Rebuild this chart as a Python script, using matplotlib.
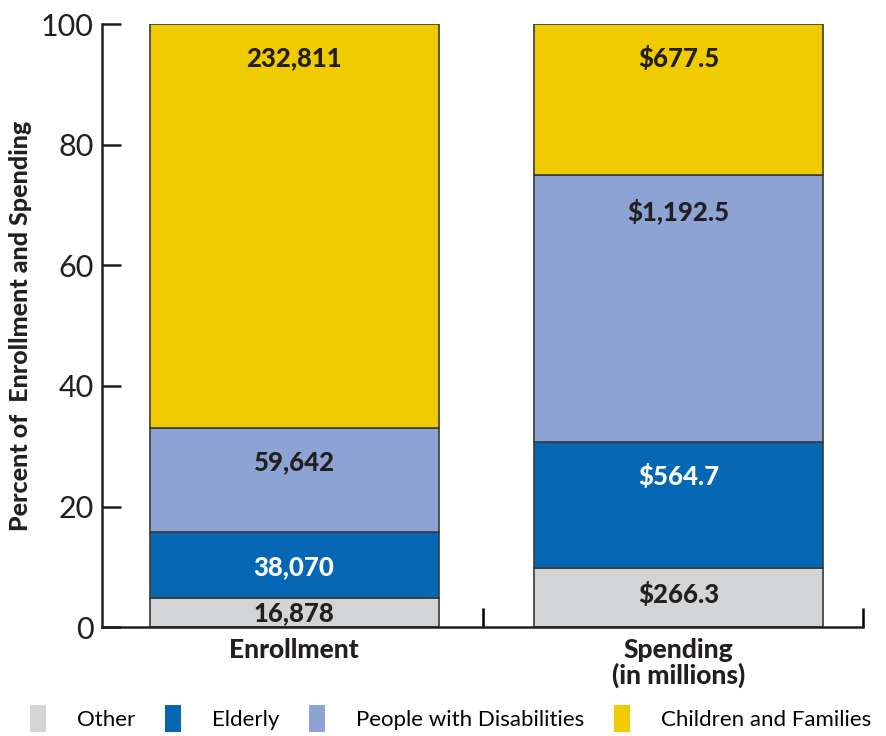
import matplotlib.pyplot as plt
from matplotlib.patches import Patch
import numpy as np

# -----------------------------------------------------------
# DATA
# -----------------------------------------------------------
groups = ["Enrollment", "Spending\n(in millions)"]
categories = ["Other", "Elderly", "People with Disabilities", "Children and Families"]
enrollment = [16878, 38070, 59642, 232811]
spending = [266.3, 564.7, 1192.5, 677.5]
enroll_labels = ["16,878", "38,070", "59,642", "232,811"]
spend_labels = ["$266.3", "$564.7", "$1,192.5", "$677.5"]

colors = ["#D3D4D6", "#0567B3", "#8CA3D4", "#F0CB00"]
text_colors = ["#231F20", "white", "#231F20", "#231F20"]
# label heights (percent) as placed in the original
enroll_label_y = [2.4, 10.0, 27.3, 94.4]
spend_label_y = [5.4, 25.0, 69.0, 94.4]

plt.rcParams['font.family'] = ['Lato', 'DejaVu Sans']

fig = plt.figure(figsize=(8.87, 7.36), dpi=100)
ax = fig.add_axes([0.115, 0.148, 0.858, 0.819])

xpos = [0.505, 1.515]
width = 0.76
for x, vals, labs, ly in [(xpos[0], enrollment, enroll_labels, enroll_label_y),
                          (xpos[1], spending, spend_labels, spend_label_y)]:
    pct = np.array(vals) / np.sum(vals) * 100
    bottom = 0
    for i, p in enumerate(pct):
        ax.bar(x, p, width, bottom=bottom, color=colors[i],
               edgecolor="#3a3a3a", linewidth=1.2)
        ax.text(x, ly[i], labs[i], ha="center", va="center",
                fontsize=18.5, fontweight="black", color=text_colors[i])
        bottom += p

ax.set_xlim(0, 2)
ax.set_ylim(0, 100)
ax.spines['top'].set_visible(False)
ax.spines['right'].set_visible(False)
for s in ['left', 'bottom']:
    ax.spines[s].set_linewidth(1.8)
    ax.spines[s].set_color("#231F20")

ax.set_yticks([0, 20, 40, 60, 80, 100])
ax.tick_params(axis='y', direction='in', length=14, width=1.8, pad=6,
               labelsize=22, colors="#231F20")
ax.set_xticks([1, 2])
ax.set_xticklabels([])
ax.tick_params(axis='x', which='major', direction='in', length=14, width=1.8)
ax.set_xticks(xpos, minor=True)
ax.set_xticklabels(groups, minor=True, fontsize=19, fontweight="black",
                   color="#231F20", linespacing=1.0)
ax.tick_params(axis='x', which='minor', length=0, pad=8)

ax.set_ylabel("Percent of  Enrollment and Spending", fontsize=18,
              fontweight="black", color="#231F20", labelpad=6)

handles = [Patch(facecolor=c, edgecolor='none') for c in colors]
fig.legend(handles, categories, loc="lower center", ncol=4, frameon=False,
           fontsize=16, bbox_to_anchor=(0.508, -0.022), handlelength=0.75,
           handleheight=1.5, columnspacing=1.3, handletextpad=1.4)

fig.savefig("out.png", dpi=100)
